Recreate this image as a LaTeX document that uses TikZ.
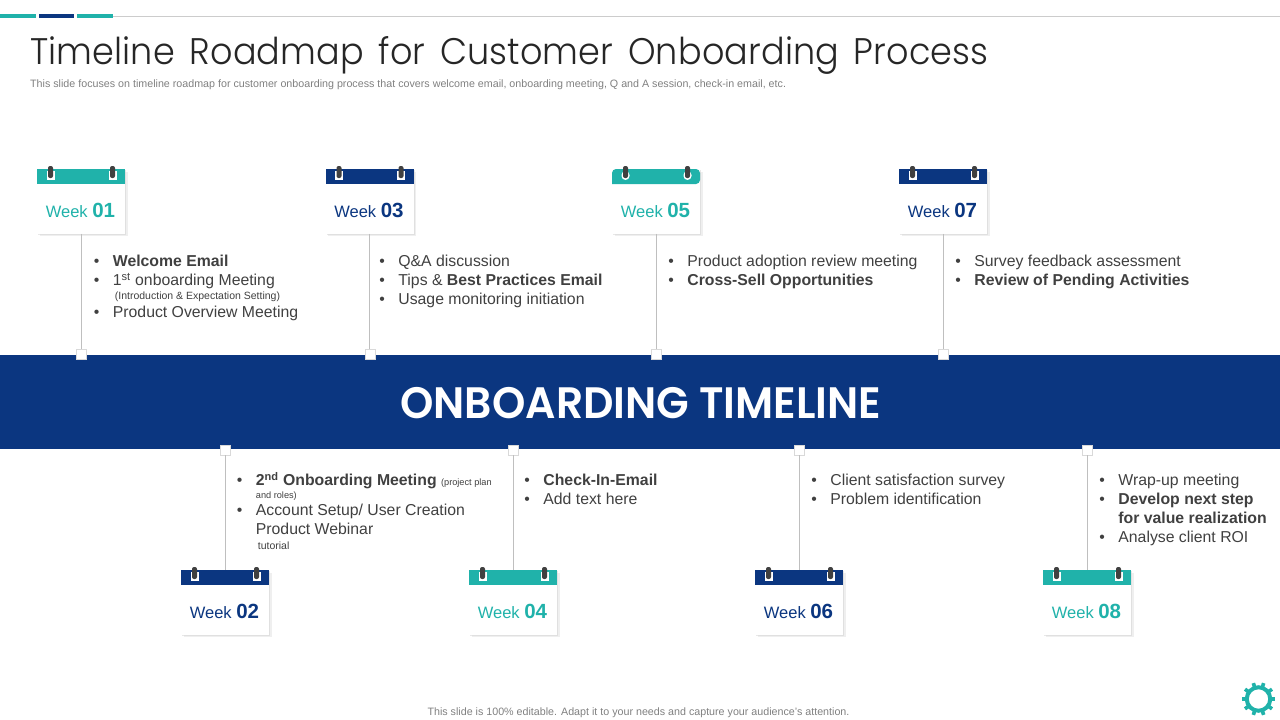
\documentclass[tikz,border=0pt]{standalone}
\usepackage{xcolor}
\usepackage{fontspec}
\usetikzlibrary{positioning,shadows}
\setmainfont{Liberation Sans}
\newfontfamily\titlefont[FakeStretch=0.947,LetterSpace=0.4,WordSpace=1.5]{Poppins Light}
\newfontfamily\bannerfont[FakeStretch=0.965]{Poppins SemiBold}
\definecolor{tealbar}{HTML}{20B2AA}
\definecolor{navybar}{HTML}{0B3680}
\definecolor{bodytext}{HTML}{404040}
\newcommand{\blt}{\makebox[19pt][l]{\textbullet}}
\newcommand{\smalltext}[1]{{\fontsize{10.5}{12}\selectfont #1}}
\newcommand{\tinytext}[1]{{\fontsize{9.2}{11}\selectfont #1}}

\begin{document}
\begin{tikzpicture}[
    x=1pt, y=-1pt,
    node distance=115pt,
    bullets/.style={inner sep=0pt, align=left, text=bodytext, font=\fontsize{15.8}{19}\selectfont},
    stem/.style={draw=black!25, line width=1pt},
    dot/.style={draw=black!15, fill=white, minimum size=10pt, inner sep=0pt},
    pics/weekcard/.style n args={3}{code={
      \node[fill=white, minimum width=88pt, minimum height=64.5pt, inner sep=0pt, anchor=north west,
        drop shadow={shadow xshift=2.5pt, shadow yshift=-2.5pt, fill=black!12},
        drop shadow={shadow xshift=1.2pt, shadow yshift=-1.2pt, fill=black!18}] (card) at (0,0) {};
      \fill[#1, rounded corners=#3] (0,15) -- (0,0) -- (88,0) -- (88,15) [sharp corners] -- cycle;
      \fill[white, rounded corners=#3] (9.5,2) rectangle (17.5,11);
      \fill[white, rounded corners=#3] (71.5,2) rectangle (79.5,11);
      \fill[black!75, rounded corners=2pt] (11,-3) rectangle (16,9);
      \fill[black!75, rounded corners=2pt] (73,-3) rectangle (78,9);
      \node[text=#1, inner sep=0pt] (label) at (43.5,41) {\fontsize{16.5}{20}\selectfont Week \fontsize{20.5}{24}\selectfont\bfseries #2};
    }}
  ]
    \useasboundingbox (0,0) rectangle (1280,720);

    % top rule
    \draw[black!20, line width=1pt] (113,16) -- (1280,16);
    \fill[tealbar] (0,14) rectangle (36,18);
    \fill[navybar] (39,14) rectangle (74,18);
    \fill[tealbar] (77,14) rectangle (113,18);

    \node[anchor=west, inner sep=0pt, text=black!85, font=\titlefont\fontsize{37}{40}\selectfont] (title) at (30,55) {Timeline Roadmap for Customer Onboarding Process};
    \node[anchor=west, inner sep=0pt, text=black!50, font=\fontsize{10.7}{12}\selectfont] (subtitle) at (30,85) {This slide focuses on timeline roadmap for customer onboarding process that covers welcome email, onboarding meeting, Q and A session, check-in email, etc.};

    \node[fill=navybar, minimum width=1280pt, minimum height=94pt, inner sep=0pt, anchor=north west] (banner) at (0,355) {};
    \node[text=white, inner sep=0pt, font=\bannerfont\fontsize{44}{48}\selectfont] (bannertext) at (641,403) {ONBOARDING TIMELINE};

    % cards above the band
    \pic (w1) at (37,169) {weekcard={tealbar}{01}{0pt}};
    \pic (w3) at (325.5,169) {weekcard={navybar}{03}{0pt}};
    \pic (w5) at (612,169) {weekcard={tealbar}{05}{4pt}};
    \pic (w7) at (899,169) {weekcard={navybar}{07}{0pt}};
    % cards below the band
    \pic (w2) at (181,570) {weekcard={navybar}{02}{0pt}};
    \pic (w4) at (469,570) {weekcard={tealbar}{04}{0pt}};
    \pic (w6) at (755,570) {weekcard={navybar}{06}{0pt}};
    \pic (w8) at (1043,570) {weekcard={tealbar}{08}{0pt}};

    \node[dot, below=115.5pt of w1card] (dot1) {};
    \node[dot, below=115.5pt of w3card] (dot3) {};
    \node[dot, below=115.5pt of w5card] (dot5) {};
    \node[dot, below=115.5pt of w7card] (dot7) {};
    \node[dot, above=of w2card] (dot2) {};
    \node[dot, above=of w4card] (dot4) {};
    \node[dot, above=of w6card] (dot6) {};
    \node[dot, above=of w8card] (dot8) {};

    \draw[stem] (w1card) -- (dot1);
    \draw[stem] (w3card) -- (dot3);
    \draw[stem] (w5card) -- (dot5);
    \draw[stem] (w7card) -- (dot7);
    \draw[stem] (dot2) -- (w2card);
    \draw[stem] (dot4) -- (w4card);
    \draw[stem] (dot6) -- (w6card);
    \draw[stem] (dot8) -- (w8card);

    \node[bullets, below right=21pt and 12.5pt of w1card.south] (list1) {\blt\textbf{Welcome Email}\\ \blt 1\textsuperscript{st} onboarding Meeting\\[-5pt] \hspace*{21pt}\smalltext{(Introduction \& Expectation Setting)}\\[-1.5pt] \blt Product Overview Meeting};
    \node[bullets, below right=21pt and 9.5pt of w3card.south] (list3) {\blt Q\&A discussion\\ \blt Tips \& \textbf{Best Practices Email}\\ \blt Usage monitoring initiation};
    \node[bullets, below right=21pt and 12pt of w5card.south] (list5) {\blt Product adoption review meeting\\ \blt\textbf{Cross-Sell Opportunities}};
    \node[bullets, below right=21pt and 12pt of w7card.south] (list7) {\blt Survey feedback assessment\\ \blt\textbf{Review of Pending Activities}};
    \node[bullets, below right=17.5pt and 11.5pt of dot2.south] (list2) {\blt\textbf{2\textsuperscript{nd} Onboarding Meeting} \tinytext{(project plan}\\[-6.5pt] \hspace*{19pt}\tinytext{and roles)}\\[-2pt] \blt Account Setup/ User Creation\\ \hspace*{19pt}Product Webinar\\[-4pt] \hspace*{21pt}\smalltext{tutorial}};
    \node[bullets, below right=19pt and 11pt of dot4.south] (list4) {\blt\textbf{Check-In-Email}\\ \blt Add text here};
    \node[bullets, below right=19pt and 12pt of dot6.south] (list6) {\blt Client satisfaction survey\\ \blt Problem identification};
    \node[bullets, below right=19pt and 12pt of dot8.south] (list8) {\blt Wrap-up meeting\\ \blt\textbf{Develop next step}\\ \hspace*{19pt}\textbf{for value realization}\\ \blt Analyse client ROI};

    \node[inner sep=0pt, text=black!50, font=\fontsize{10.7}{12}\selectfont] (footer) at (638.5,712.5) {This slide is 100\% editable. Adapt it to your needs and capture your audience's attention.};

    % gear
    \node[circle, draw=tealbar, line width=4pt, minimum size=23.5pt, outer sep=0pt, inner sep=0pt] (gear) at (1258.5,699) {};
    \foreach \a in {0,36,...,324}
      \draw[tealbar, line width=3.6pt] (gear.center) ++(\a:12.5) -- ++(\a:4.2);
\end{tikzpicture}
\end{document}
